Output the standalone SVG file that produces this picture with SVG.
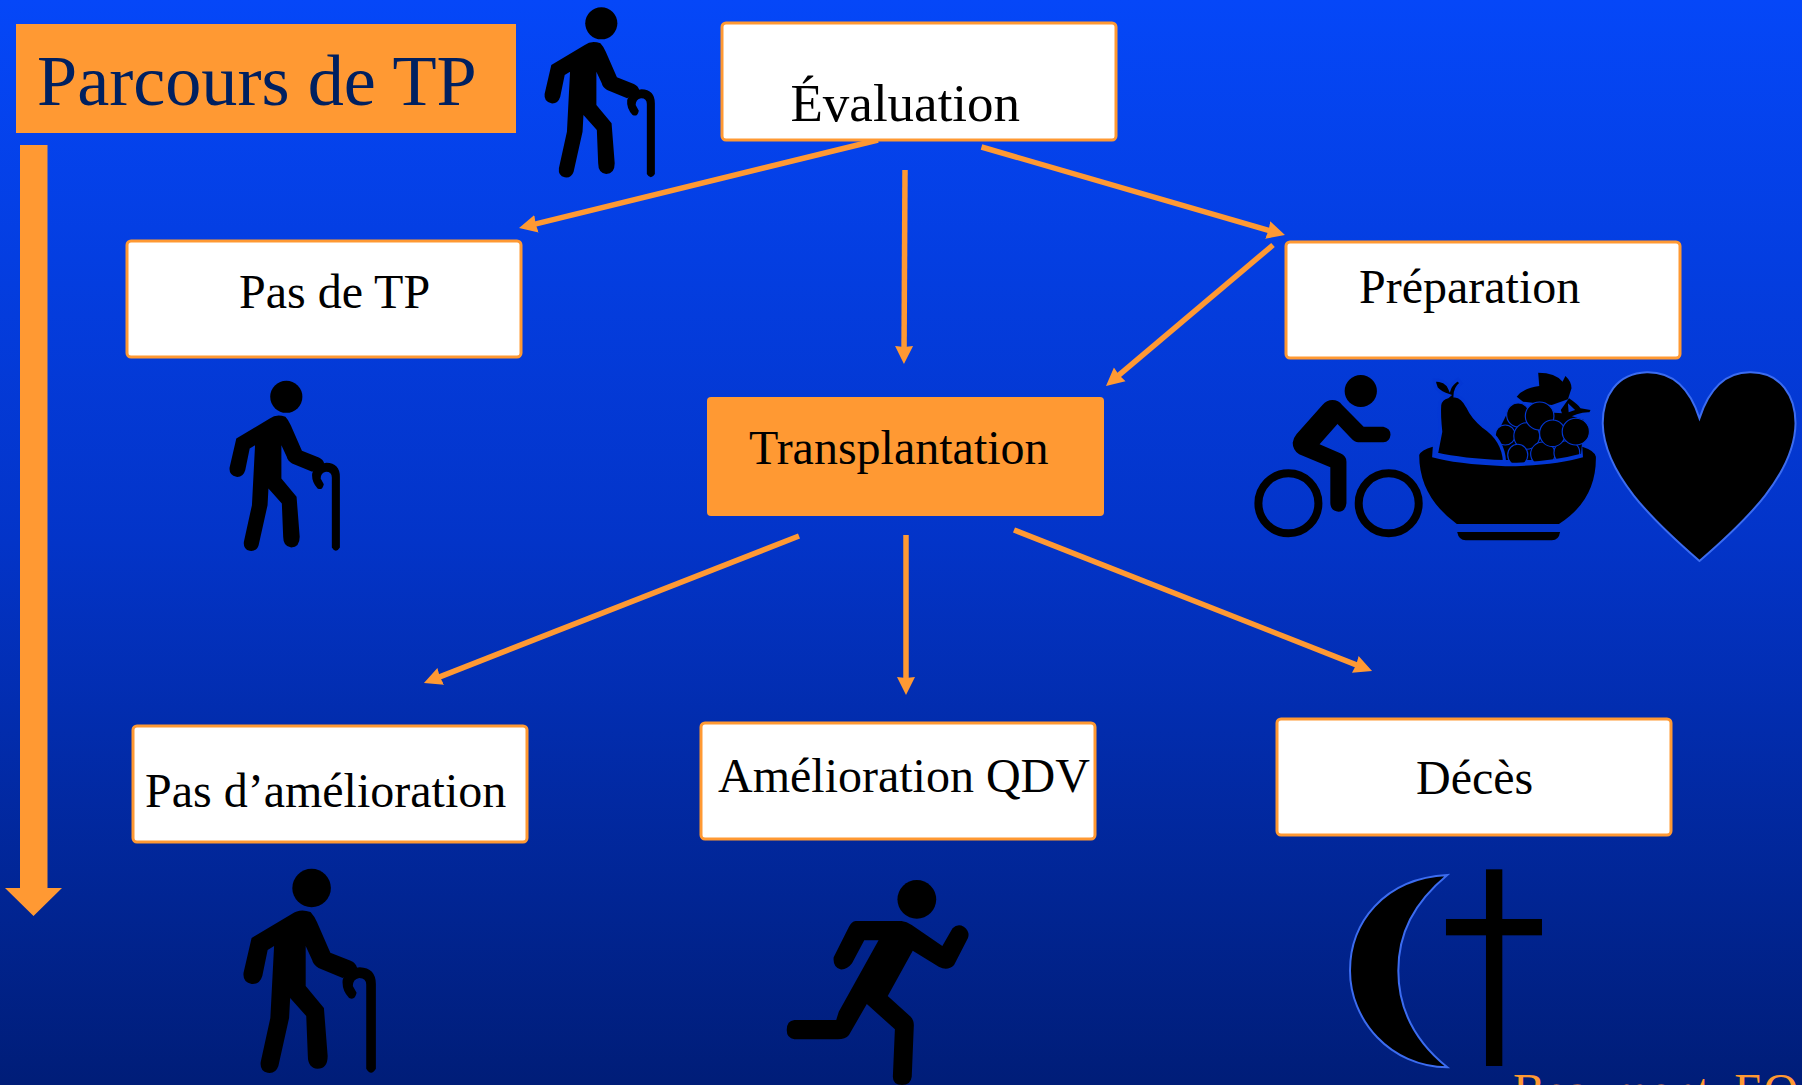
<svg xmlns="http://www.w3.org/2000/svg" width="1802" height="1085" viewBox="0 0 1802 1085">
<style>
.box{fill:#fff;stroke:#ff9933;stroke-width:3}
.t{font-family:"Liberation Serif","Times New Roman",serif;fill:#000;font-size:48px}
.c{fill:none;stroke:#ff9933;stroke-width:5.500;marker-end:url(#ah)}
.sym{fill:#000}
.edge{stroke:#3c6cf0;stroke-width:2;vector-effect:non-scaling-stroke}
.gr{stroke:#0337d4;stroke-width:3.200;vector-effect:non-scaling-stroke}
</style>
<defs>
<linearGradient id="bg" x1="0" y1="0" x2="0" y2="1">
<stop offset="0" stop-color="#0547f8"/><stop offset=".5" stop-color="#0334c8"/><stop offset="1" stop-color="#001d78"/>
</linearGradient>
<marker id="ah" markerUnits="userSpaceOnUse" markerWidth="20" markerHeight="20" refX="10" refY="9" orient="auto" viewBox="0 0 20 18">
<path d="M0,0 L18,9 L0,18 L1,9 Z" fill="#ff9933"/>
</marker>
<g id="walker">
<ellipse cx="1347" cy="70" rx="36" ry="48"/>
<path d="M1310,135 Q1325,120 1345,130 Q1352,140 1357,155 L1382,232 L1420,252 Q1430,258 1432,270 L1405,295 L1360,270 Q1350,262 1348,250 L1336,215 L1336,315 L1370,370 L1377,490 Q1377,522 1358,522 Q1340,520 1340,490 L1337,390 L1307,345 L1305,395 L1285,515 Q1280,535 1265,532 Q1250,528 1252,505 L1270,395 L1277,215 L1265,225 L1255,290 Q1250,312 1235,310 Q1218,305 1220,282 L1235,195 Z"/>
<path d="M1449,522 L1449,312 Q1449,295 1436,295 Q1424,298 1424,315 L1431,332 Q1428,352 1417,345 Q1403,325 1405,300 Q1410,270 1437,268 Q1467,270 1467,310 L1467,522 Q1458,542 1449,522 Z"/>
</g>
</defs>
<rect id="background" width="1802" height="1085" fill="url(#bg)"/>

<g id="title">
<rect x="16" y="24" width="500" height="109" fill="#ff9933"/>
<text x="37" y="105" class="t" style="font-size:72.200px;fill:#002060">Parcours de TP</text>
</g>
<path id="time-arrow" d="M20,145 H47.500 V888 H62 L33.500,916 L5,888 H20 Z" fill="#ff9933"/>

<g id="connectors">
<path class="c" d="M878,140 L526.800,226.100"/>
<path class="c" d="M905,170 L904,356"/>
<path class="c" d="M981.500,147 L1277.300,232.800"/>
<path class="c" d="M1273,245 L1112.100,380.800"/>
<path class="c" d="M799,536 L431.400,680.100"/>
<path class="c" d="M906,535 L906,687"/>
<path class="c" d="M1014,530 L1364.600,668.100"/>
</g>

<g id="node-evaluation"><rect class="box" x="722" y="23" width="394" height="117" rx="4"/><text class="t" x="790.500" y="121" style="font-size:53px">Évaluation</text></g>
<g id="node-pas-de-tp"><rect class="box" x="127" y="241" width="394" height="116" rx="4"/><text class="t" x="239" y="308">Pas de TP</text></g>
<g id="node-preparation"><rect class="box" x="1286" y="242" width="394" height="116" rx="4"/><text class="t" x="1359" y="303">Préparation</text></g>
<g id="node-transplantation"><rect x="707" y="397" width="397" height="119" rx="4" fill="#ff9933"/><text class="t" x="749" y="464">Transplantation</text></g>
<g id="node-pas-amelioration"><rect class="box" x="133" y="726" width="394" height="116" rx="4"/><text class="t" x="145" y="807">Pas d’amélioration</text></g>
<g id="node-amelioration"><rect class="box" x="701" y="723" width="394" height="116" rx="4"/><text class="t" x="718" y="791.500">Amélioration QDV</text></g>
<g id="node-deces"><rect class="box" x="1277" y="719" width="394" height="116" rx="4"/><text class="t" x="1416" y="794">Décès</text></g>

<g id="icon-walker-1" class="sym"><use href="#walker" transform="scale(.4464,.3333)"/></g>
<g id="icon-walker-2" class="sym"><use href="#walker" transform="translate(-315,373.500) scale(.4464,.3333)"/></g>
<g id="icon-walker-3" class="sym"><use href="#walker" transform="translate(-410,860) scale(.5357,.4)"/></g>

<g id="icon-runner" class="sym" transform="translate(200,850) scale(.5102,.3333)">
<ellipse cx="1405" cy="148" rx="38" ry="58"/>
<path d="M1285,213 L1375,213 Q1385,215 1395,225 L1455,288 L1475,235 Q1485,220 1497,230 Q1510,245 1505,265 L1478,345 Q1465,365 1448,350 L1397,302 L1348,438 L1393,500 Q1400,512 1399,530 L1395,680 Q1393,705 1376,705 Q1358,705 1358,680 L1362,538 L1307,462 L1272,555 Q1265,568 1250,568 L1165,568 Q1150,565 1150,540 Q1150,512 1165,510 L1247,510 L1252,485 L1330,271 L1302,271 L1278,340 Q1268,360 1255,358 Q1240,350 1242,322 L1272,230 Q1277,215 1285,213 Z"/>
</g>

<g id="icon-cyclist" class="sym" transform="translate(1240,360) scale(.3584,.3333)">
<ellipse cx="337" cy="93" rx="45" ry="48"/>
<path d="M258,120 Q275,120 285,135 L345,200 L400,200 Q420,205 420,224 Q418,245 400,247 L330,247 Q320,247 310,235 L272,192 L222,253 L280,280 Q297,288 297,305 L297,430 Q295,455 275,455 Q253,453 252,430 L252,322 L165,283 Q147,270 147,248 Q148,235 158,222 L230,135 Q242,120 258,120 Z"/>
</g>
<g id="icon-wheels" fill="none" stroke="#000" stroke-width="8">
<circle cx="1288.400" cy="503.300" r="30"/><circle cx="1388.700" cy="503.300" r="30"/>
</g>

<g id="icon-fruit" class="sym" transform="translate(1240,360) scale(.3584,.3333)">
<path d="M772,110 Q790,85 835,78 L832,38 Q880,38 900,65 L908,48 Q925,65 925,85 L915,118 L870,135 L790,125 Z"/>
<path fill-rule="evenodd" d="M918,115 Q945,135 950,145 L978,150 L975,157 Q945,155 905,180 L895,150 Z M915,130 L935,150 L917,157 Z"/>
<path d="M720,215 L750,150 L900,160 L960,180 L950,300 L730,300 Z"/>
<g class="gr">
<ellipse cx="776" cy="165" rx="32" ry="36"/>
<ellipse cx="740" cy="225" rx="28" ry="30"/>
<ellipse cx="800" cy="228" rx="36" ry="40"/>
<ellipse cx="775" cy="285" rx="28" ry="32"/>
<ellipse cx="845" cy="282" rx="34" ry="36"/>
<ellipse cx="912" cy="278" rx="36" ry="36"/>
<ellipse cx="836" cy="168" rx="40" ry="42"/>
<ellipse cx="872" cy="220" rx="36" ry="40"/>
<ellipse cx="937" cy="215" rx="38" ry="40"/>
</g>
<path d="M548,282 L560,215 Q555,165 557,135 Q560,115 580,110 L583,107 Q560,100 548,85 Q542,70 542,60 Q575,60 585,85 Q590,70 608,58 L617,70 Q600,85 600,108 Q620,110 635,140 Q650,175 680,200 Q735,240 738,305 Q620,300 548,282 Z" stroke="#0337d4" stroke-width="3.200" vector-effect="non-scaling-stroke"/>
<path d="M536,280 Q640,308 745,308 Q860,308 957,280 L957,330 L530,330 Z" fill="#0337d4"/>
<path d="M500,285 Q505,270 538,260 L536,292 Q600,312 740,319 Q880,317 957,292 L955,260 Q990,272 993,290 Q995,420 890,492 L605,492 Q500,410 500,285 Z"/>
<path d="M606,516 L893,516 Q890,540 870,541 L630,541 Q610,540 606,516 Z"/>
</g>

<path id="icon-heart" class="sym edge" transform="translate(1240,360) scale(.3584,.3333)" d="M1282,175 Q1240,35 1135,37 C1050,40 1012,110 1012,190 C1015,340 1150,480 1282,603 C1415,480 1548,340 1550,190 C1550,110 1510,37 1425,37 Q1325,35 1282,175 Z"/>

<g id="icon-crescent-cross" transform="translate(1300,850) scale(.3333)">
<path class="sym edge" d="M442,75 C250,85 150,220 150,362 C150,510 270,650 442,652 C340,570 295,470 295,362 C295,250 340,160 442,75 Z"/>
<rect x="558" y="58" width="49" height="590"/>
<rect x="438" y="207" width="288" height="49"/>
</g>

<text id="citation" x="1513" y="1107" class="t" style="fill:#ff9933;font-size:48px">Beaumont, EQ</text>
</svg>
